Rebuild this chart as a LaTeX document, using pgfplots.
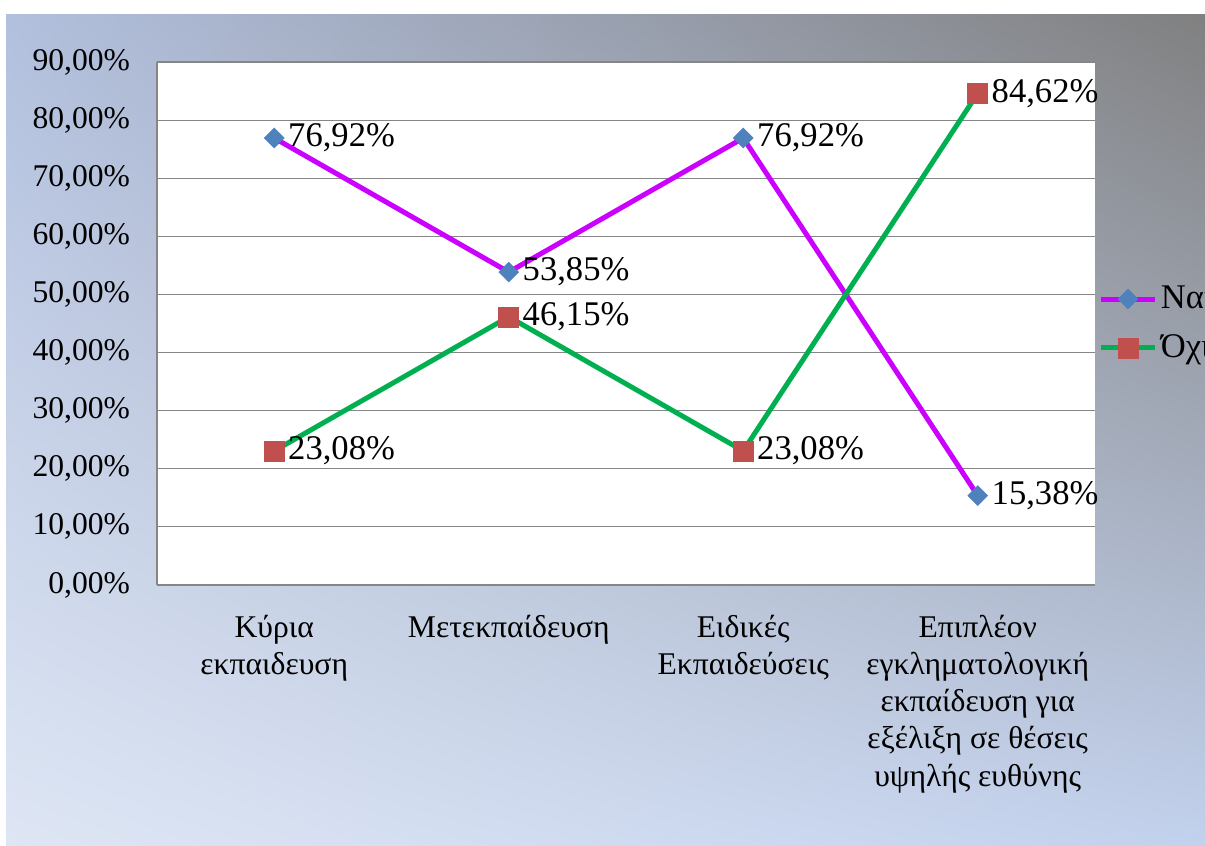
\documentclass[border=0pt]{standalone}
\usepackage{fontspec}
\setmainfont{Liberation Serif}
\usepackage{pgfplots}
\pgfplotsset{compat=1.18}
\usetikzlibrary{shadings}
\definecolor{naiL}{RGB}{204,0,255}
\definecolor{ochiL}{RGB}{0,176,80}
\definecolor{naiM}{RGB}{79,129,189}
\definecolor{ochiM}{RGB}{192,80,77}
\definecolor{gridc}{RGB}{134,134,134}
\definecolor{bgUL}{RGB}{178,192,222}
\definecolor{bgUR}{RGB}{128,128,128}
\definecolor{bgLL}{RGB}{222,230,244}
\definecolor{bgLR}{RGB}{194,209,237}
\begin{document}
\begin{tikzpicture}[font=\fontsize{15.8}{18.5}\selectfont]
\useasboundingbox (0,0) rectangle (602.5pt,423pt);
\clip (0,0) rectangle (602.5pt,423pt);
\fill[white] (0,0) rectangle (602.5pt,423pt);
\shade[upper left=bgUL, upper right=bgUR, lower left=bgLL, lower right=bgLR] (3pt,0) rectangle (602.5pt,415.5pt);
\begin{axis}[
 at={(78.5pt,130.5pt)}, anchor=south west, scale only axis,
 width=469pt, height=261.5pt,
 xmin=-0.5, xmax=3.5, ymin=0, ymax=90,
 clip=false,
 axis background/.style={fill=white},
 xtick={0,1,2,3},
 xticklabels={{Κύρια\\εκπαιδευση},{Μετεκπαίδευση},{Ειδικές\\Εκπαιδεύσεις},{Επιπλέον\\εγκληματολογική\\εκπαίδευση για\\εξέλιξη σε θέσεις\\υψηλής ευθύνης}},
 xticklabel style={align=center, yshift=-11.5pt, font=\fontsize{15.8}{18.6}\selectfont},
 ytick={0,10,...,90},
 yticklabels={{0,00\%},{10,00\%},{20,00\%},{30,00\%},{40,00\%},{50,00\%},{60,00\%},{70,00\%},{80,00\%},{90,00\%}},
 yticklabel style={xshift=-10pt, font=\fontsize{15.8}{18.5}\selectfont},
 major tick length=0pt,
 ymajorgrids, grid style={gridc, line width=0.6pt},
 axis x line*=bottom, axis y line*=left,
 axis line style={gridc, line width=0.6pt, -},
 nodes near coords={\pgfmathprintnumber[fixed,fixed zerofill,precision=2,use comma,assume math mode=true]{\pgfplotspointmeta}\%},
 every node near coord/.append style={anchor=west, xshift=3.5pt, text=black, font=\fontsize{17.3}{20}\selectfont},
 legend style={at={(1.003,0.5)}, anchor=west, draw=none, fill=none, inner sep=0pt, row sep=8.5pt, font=\fontsize{17.3}{20}\selectfont, nodes={inner sep=1.5pt}},
 legend cell align=left,
 legend image code/.code={\draw[mark repeat=2,mark phase=2,#1] plot coordinates {(0cm,0cm) (0.48cm,0cm) (0.96cm,0cm)};},
]
\addplot[naiL, line width=2.5pt, mark=square*, mark size=3.5pt,
  mark options={draw=naiM, fill=naiM, line width=0.3pt, rotate=45}]
  coordinates {(0,76.92) (1,53.85) (2,76.92) (3,15.38)};
\addlegendentry{Ναι}
\addplot[ochiL, line width=2.5pt, mark=square*, mark size=5pt,
  mark options={draw=ochiM, fill=ochiM, line width=0.3pt}]
  coordinates {(0,23.08) (1,46.15) (2,23.08) (3,84.62)};
\addlegendentry{Όχι}
\end{axis}
\end{tikzpicture}
\end{document}
